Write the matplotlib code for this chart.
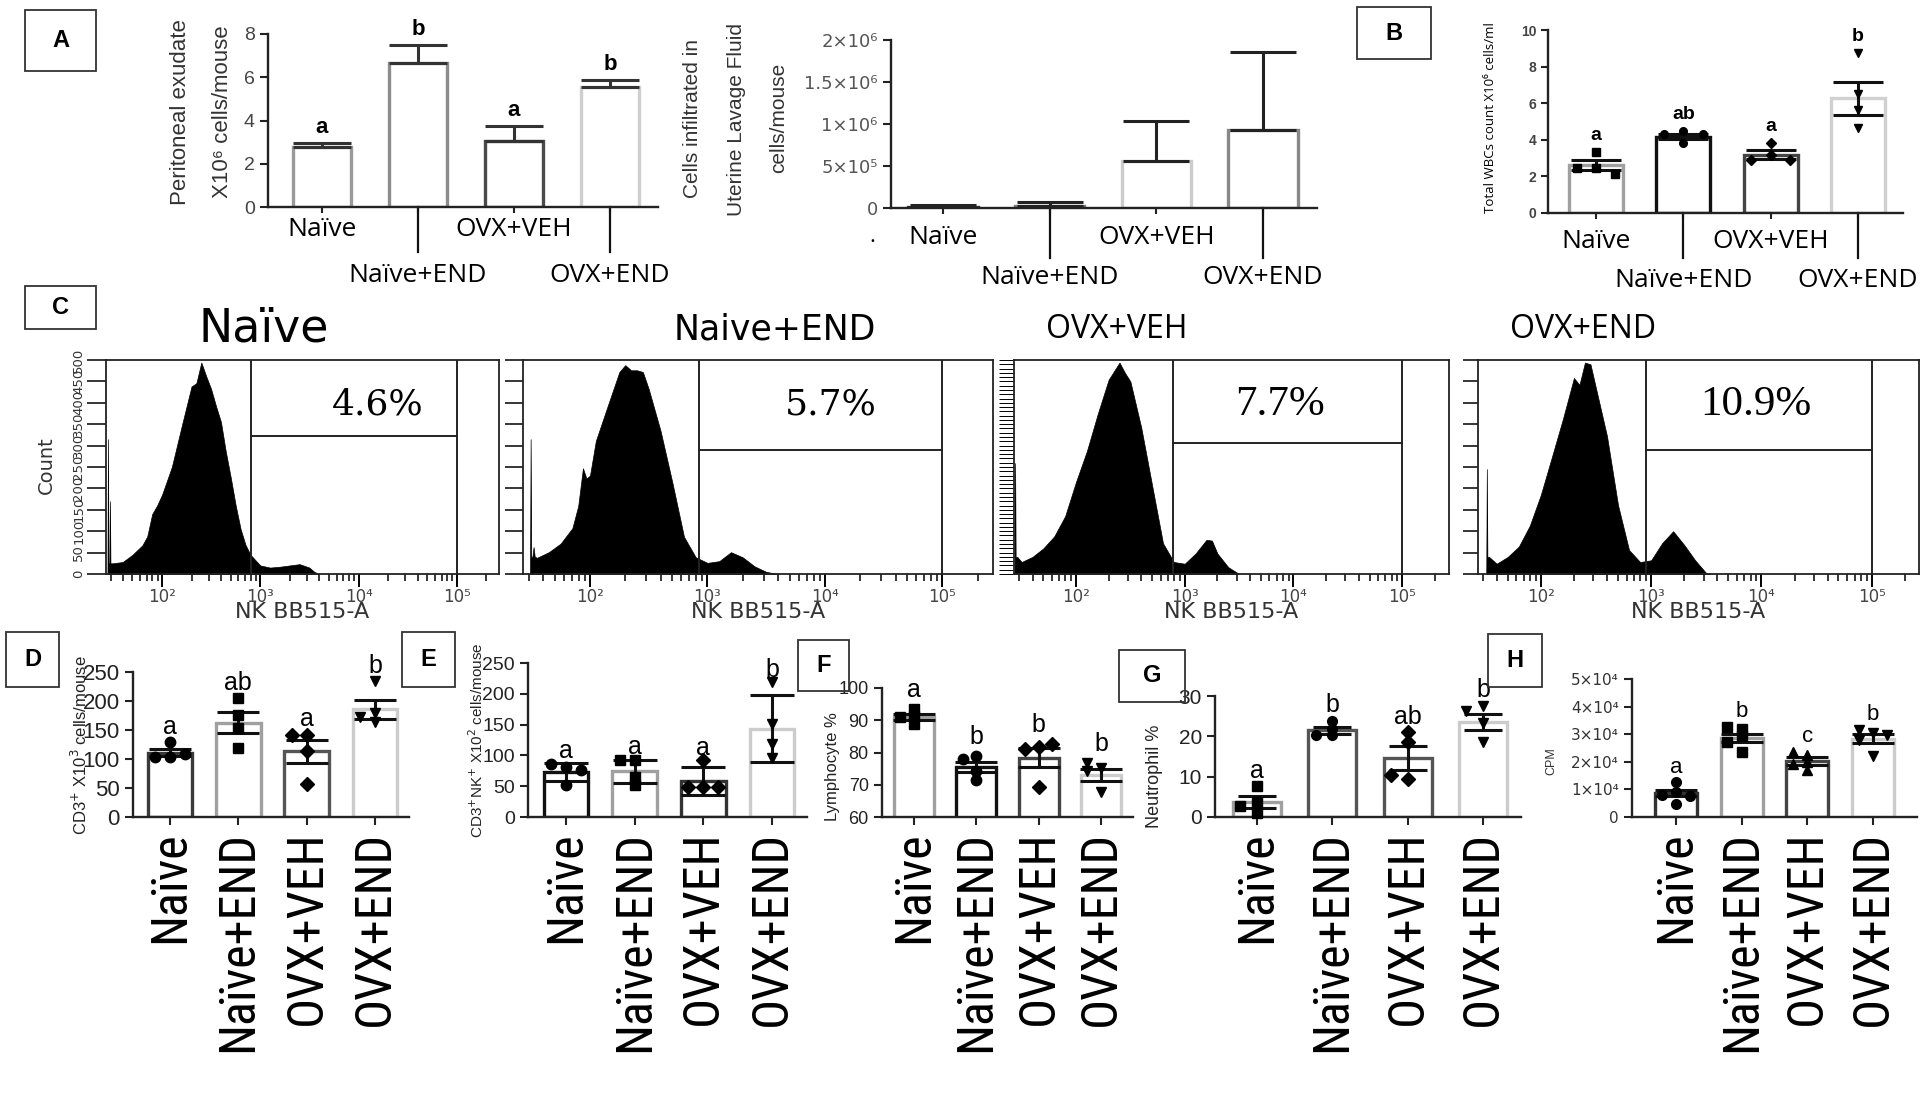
import numpy as np
import matplotlib
matplotlib.use("Agg")
import matplotlib.pyplot as plt
import matplotlib.transforms as mtransforms
from matplotlib.lines import Line2D
from matplotlib.patches import Rectangle

# --------------------------------------------------
# values
# --------------------------------------------------
groups = ["Naïve", "Naïve+END", "OVX+VEH", "OVX+END"]

# A left: peritoneal exudate X10^6 cells/mouse (mean + upper SEM only)
perit_mean = [2.78, 6.65, 3.03, 5.55]
perit_err = [0.16, 0.85, 0.70, 0.30]
perit_letters = ["a", "b", "a", "b"]

# A right: cells infiltrated in uterine lavage fluid, cells/mouse
uter_mean = [12000, 25000, 555000, 930000]
uter_err = [28000, 42000, 475000, 930000]
uter_ticks = [0, 5e5, 1e6, 1.5e6, 2e6]
uter_ticklabels = ["0", "5×10⁵", "1×10⁶", "1.5×10⁶", "2×10⁶"]

# B: total WBCs count X10^6 cells/ml
wbc_mean = [2.61, 4.16, 3.19, 6.26]
wbc_sem = [0.27, 0.13, 0.24, 0.90]
wbc_pts = [[3.34, 2.46, 2.46, 2.15],
           [3.85, 4.29, 4.29, 4.47],
           [3.80, 3.19, 2.92, 2.92],
           [8.76, 6.53, 5.62, 4.62]]
wbc_letters = ["a", "ab", "a", "b"]

# C: NK BB515-A histograms (x = log10 intensity, y = count)
hist_titles = ["Naïve", "Naive+END", "OVX+VEH", "OVX+END"]
hist_pct = ["4.6%", "5.7%", "7.7%", "10.9%"]
gate_lo = [2.91, 2.93, 2.89, 2.95]
gate_hi = 5.0
gate_y = [323, 290, 306, 290]

naive_x = [1.445, 1.45, 1.455, 1.465, 1.47, 1.475, 1.5, 1.6, 1.7, 1.8, 1.85, 1.9, 1.95, 2.0,
           2.1, 2.2, 2.3, 2.35, 2.4, 2.45, 2.5, 2.55, 2.6, 2.65, 2.7, 2.75, 2.8, 2.85,
           2.9, 3.0, 3.1, 3.2, 3.3, 3.4, 3.5, 3.55, 3.6]
naive_y = [0, 315, 25, 25, 170, 25, 25, 28, 45, 67, 88, 140, 160, 185,
           250, 345, 438, 446, 494, 462, 432, 392, 355, 285, 225, 160, 105, 68,
           45, 20, 15, 17, 20, 23, 15, 5, 0]
nend_x = [1.49, 1.495, 1.50, 1.51, 1.52, 1.53, 1.55, 1.65, 1.75, 1.85, 1.9, 1.94, 1.97, 2.0,
          2.05, 2.15, 2.25, 2.3, 2.35, 2.4, 2.45, 2.5, 2.6, 2.7, 2.8, 2.9, 3.0, 3.1,
          3.2, 3.3, 3.4, 3.5, 3.6]
nend_y = [0, 315, 40, 40, 63, 40, 38, 51, 71, 107, 159, 247, 223, 230,
          311, 392, 472, 488, 476, 476, 472, 432, 335, 215, 87, 39, 26, 30,
          51, 39, 18, 5, 0]
oveh_x = [1.435, 1.44, 1.445, 1.455, 1.46, 1.5, 1.6, 1.7, 1.8, 1.9, 2.0, 2.1, 2.2, 2.3, 2.4,
          2.45, 2.5, 2.6, 2.7, 2.8, 2.9, 3.0, 3.1, 3.2, 3.25, 3.3, 3.4, 3.5]
oveh_y = [0, 259, 40, 40, 40, 28, 40, 60, 88, 135, 215, 287, 374, 454, 494,
          470, 450, 342, 207, 72, 28, 24, 48, 80, 78, 48, 16, 0]
oend_x = [1.505, 1.51, 1.515, 1.52, 1.53, 1.6, 1.7, 1.8, 1.9, 2.0, 2.1, 2.2, 2.3,
          2.35, 2.4, 2.45, 2.5, 2.6, 2.7, 2.8, 2.9, 3.0, 3.1, 3.2, 3.3, 3.4, 3.5, 3.55]
oend_y = [0, 245, 40, 40, 40, 24, 40, 64, 113, 185, 273, 362, 458,
          442, 494, 490, 434, 322, 161, 56, 28, 32, 72, 100, 68, 32, 2, 0]

# D: CD3+ X10^3 cells/mouse
cd3_mean = [111, 162.5, 113, 185.5]
cd3_sem = [6.5, 18, 20, 16]
cd3_pts = [[129.7, 103.4, 103.4, 108.1],
           [205.5, 175.2, 152.6, 118.9],
           [142.2, 142.2, 114.6, 56.3],
           [234.2, 178.6, 171.9, 164.1]]
cd3_letters = ["a", "ab", "a", "b"]

# E: CD3+NK+ X10^2 cells/mouse
nk_mean = [73, 74, 59, 143.5]
nk_sem = [14.5, 19, 22.5, 54]
nk_pts = [[80.7, 85.4, 76.6, 51.6],
          [91.8, 91.8, 64.9, 52.2],
          [92.4, 48.1, 48.1, 48.1],
          [218.4, 150.3, 118.7, 95.0]]
nk_letters = ["a", "a", "a", "b"]

# F: lymphocyte %
lym_mean = [91.1, 75.6, 78.4, 73.0]
lym_sem = [0.9, 1.5, 3.0, 1.9]
lym_pts = [[93.5, 91.2, 91.0, 88.8],
           [78.9, 78.1, 74.3, 71.6],
           [81.7, 81.2, 82.6, 69.2],
           [75.1, 76.7, 74.3, 67.6]]
lym_letters = ["a", "b", "b", "b"]

# G: neutrophil %
neu_mean = [3.7, 21.5, 14.7, 23.6]
neu_sem = [1.5, 0.9, 3.0, 2.05]
neu_pts = [[7.6, 3.8, 2.8, 0.9],
           [23.75, 21.8, 20.3, 20.3],
           [21.0, 18.6, 9.4, 10.3],
           [27.6, 26.3, 23.3, 18.6]]
neu_letters = ["a", "b", "ab", "b"]

# H: CPM
cpm_mean = [8660, 28600, 20300, 28400]
cpm_sem = [1100, 1400, 1300, 1650]
cpm_pts = [[12600, 9000, 8100, 7700, 4600],
           [31900, 32600, 29200, 27100, 23700],
           [22500, 23700, 19900, 19200, 16900],
           [30300, 31500, 29800, 28000, 22000]]
cpm_letters = ["a", "b", "c", "b"]
cpm_ticks = [0, 1e4, 2e4, 3e4, 4e4, 5e4]
cpm_ticklabels = ["0", "1×10⁴", "2×10⁴", "3×10⁴", "4×10⁴", "5×10⁴"]

# --------------------------------------------------
# figure helpers (pixel layout of the 1924x1106 canvas)
# --------------------------------------------------
W, H = 1924, 1106
plt.rcParams["font.family"] = ["Liberation Sans", "DejaVu Sans"]
COND = ["Open Sans", "DejaVu Sans"]
TALL = ["Roboto Condensed", "Liberation Sans", "DejaVu Sans"]
WIDE = ["DejaVu Sans"]

fig = plt.figure(figsize=(W / 100, H / 100), dpi=100)


def frac(l, t, r, b):
    return [l / W, 1 - b / H, (r - l) / W, (b - t) / H]


def fy(y):
    return 1 - y / H


def panel_tag(l, t, r, b, s):
    fig.add_artist(Rectangle((l / W, fy(b)), (r - l) / W, (b - t) / H,
                             transform=fig.transFigure, fill=False, lw=1.3, ec="#333"))
    fig.text((l + r) / 2 / W, fy((t + b) / 2), s, ha="center", va="center",
             fontsize=17, fontweight="bold")


def bar_axes(spine, end, c0, c3, top, zero, ylim):
    step = (c3 - c0) / 3
    ax = fig.add_axes(frac(spine, top, end, zero))
    ax.set_xlim(-(c0 - spine) / step, 3 + (end - c3) / step)
    ax.set_ylim(*ylim)
    ax.patch.set_alpha(0)
    for s in ("top", "right"):
        ax.spines[s].set_visible(False)
    for s in ("left", "bottom"):
        ax.spines[s].set_linewidth(1.7)
        ax.spines[s].set_color("#222")
    ax.tick_params(direction="out", width=1.5, length=6, color="#222")
    ax.set_xticks(range(4))
    return ax


def swarm(vals, span, step=0.22):
    offs = []
    for i, v in enumerate(vals):
        used = [offs[j] for j in range(i) if abs(vals[j] - v) < 0.05 * span]
        for c in (0, -step, step, -2 * step, 2 * step):
            if all(abs(c - u) > 1e-9 for u in used):
                offs.append(c)
                break
    return offs


def draw_bars(ax, means, errs, colors, width, cap, pts=None, markers=None, ms=8,
              one_sided=False, letters=None, pad=0.1, lfs=18, lweight="normal", ecolor="#111"):
    x = np.arange(len(means))
    ax.bar(x, means, width, color="white", edgecolor=colors, linewidth=2.4, zorder=2)
    yerr = [np.zeros(len(errs)), errs] if one_sided else errs
    ax.errorbar(x, means, yerr=yerr, fmt="none", ecolor=ecolor, elinewidth=2.2,
                capsize=cap, capthick=2.2, zorder=4)
    lo, hi = ax.get_ylim()
    span = hi - lo
    for i in x:
        top = means[i] + errs[i]
        if pts is not None:
            offs = swarm(pts[i], span)
            ax.plot(i + np.array(offs), pts[i], ls="none", marker=markers[i], ms=ms,
                    color="black", zorder=5, clip_on=False)
            top = max(top, max(pts[i]))
        if letters is not None:
            ax.text(i, top + pad * span, letters[i], ha="center", va="center",
                    fontsize=lfs, fontweight=lweight, clip_on=False)


def stagger_labels(ax, y1, y2, ydiv, fs=19):
    tr = mtransforms.blended_transform_factory(ax.transData, fig.transFigure)
    y0 = ax.get_position().y0
    ax.set_xticklabels([])
    ax.tick_params(axis="x", length=4)
    for i, g in enumerate(groups):
        if i % 2 == 0:
            ax.text(i, fy(y1), g, transform=tr, ha="center", va="center", fontsize=fs, family=COND)
        else:
            ax.add_line(Line2D([i, i], [y0, fy(ydiv)], transform=tr, color="#111", lw=1.6,
                               clip_on=False))
            ax.text(i, fy(y2), g, transform=tr, ha="center", va="center", fontsize=fs, family=COND)


def rotated_labels(ax, fs=36):
    ax.set_xticklabels(groups, rotation=90, fontsize=fs, family=TALL)
    ax.tick_params(axis="x", pad=4)


def hist_panel(box, xs, ys, k, title_x, title_font, title_size, pct_x, pct_font, pct_size,
               tick_step, tick_len, tick_w=1.1, show_labels=False):
    l, r, t, b = box
    ax = fig.add_axes(frac(l, t, r, b))
    ax.fill_between(xs, ys, 0, color="black", lw=0.5, ec="black")
    ax.set_xlim(1.43, 5.43)
    ax.set_ylim(0, 500)
    for s in ax.spines.values():
        s.set_linewidth(1.3)
        s.set_color("#222")
    lo = gate_lo[k]
    ax.plot([lo, lo], [0, 500], color="#222", lw=1.4)
    ax.plot([gate_hi, gate_hi], [0, 500], color="#222", lw=1.4)
    ax.plot([lo, gate_hi], [gate_y[k], gate_y[k]], color="#222", lw=1.4)
    ax.text(pct_x, 395, hist_pct[k], ha="center", va="center",
            fontsize=pct_size, family=pct_font)
    ax.set_xticks([2, 3, 4, 5])
    ax.set_xticklabels(["10²", "10³", "10⁴", "10⁵"], fontsize=12, color="#444",
                       family=["DejaVu Sans"])
    minor = [np.log10(m * 10 ** n) for n in range(1, 6) for m in range(2, 10)]
    ax.set_xticks([v for v in minor if 1.43 < v < 5.43], minor=True)
    ax.tick_params(axis="x", which="major", direction="out", length=9, width=1.4, pad=1)
    ax.tick_params(axis="x", which="minor", direction="out", length=5, width=1.1)
    ax.set_xlabel("NK BB515-A", fontsize=16, color="#333", family=["DejaVu Sans"], labelpad=-3)
    ax.set_yticks(np.arange(0, 501, tick_step))
    ax.tick_params(axis="y", direction="out", length=tick_len, width=tick_w, pad=1)
    if show_labels:
        ax.set_yticklabels([str(v) for v in range(0, 501, tick_step)], rotation=90,
                           fontsize=9.5, color="#333", va="center", family=["DejaVu Sans"])
    else:
        ax.set_yticklabels([])
    fig.text(title_x / W, fy(329), hist_titles[k], ha="center", va="center",
             fontsize=title_size, family=title_font)
    return ax


# --------------------------------------------------
# A: peritoneal exudate and uterine lavage
# --------------------------------------------------
panel_tag(25, 10, 96, 71, "A")
ax = bar_axes(268, 658, 322, 610, 34, 207, (0, 8))
draw_bars(ax, perit_mean, perit_err, ["#9a9a9a", "#8c8c8c", "#4a4a4a", "#cfcfcf"], 0.6, 21,
          one_sided=True, letters=perit_letters, pad=0.09, lfs=16, lweight="bold", ecolor="#333")
ax.set_yticks([0, 2, 4, 6, 8])
ax.tick_params(axis="y", labelsize=14, labelcolor="#444")
stagger_labels(ax, 229, 276, 252)
fig.text(181 / W, fy(112), "Peritoneal exudate", rotation=90, ha="center", va="center",
         fontsize=16, color="#333")
fig.text(223 / W, fy(112), "X10⁶ cells/mouse", rotation=90, ha="center", va="center",
         fontsize=16, color="#333")

ax = bar_axes(891, 1317, 943, 1263, 40, 208, (0, 2e6))
draw_bars(ax, uter_mean, uter_err, ["#333333", "#7a7a7a", "#cccccc", "#888888"], 0.65, 24,
          one_sided=True, ecolor="#222")
ax.set_yticks(uter_ticks)
ax.set_yticklabels(uter_ticklabels, fontsize=13, color="#555", family=["DejaVu Sans"])
stagger_labels(ax, 238, 278, 258)
fig.text(872 / W, fy(236), ".", ha="center", va="center", fontsize=16, family=COND)
fig.text(693 / W, fy(118), "Cells infiltrated in", rotation=90, ha="center", va="center",
         fontsize=15, color="#333")
fig.text(737 / W, fy(119), "Uterine Lavage Fluid", rotation=90, ha="center", va="center",
         fontsize=15, color="#333")
fig.text(779 / W, fy(118), "cells/mouse", rotation=90, ha="center", va="center",
         fontsize=15, color="#333")

# --------------------------------------------------
# B: total WBCs
# --------------------------------------------------
panel_tag(1357, 7, 1431, 59, "B")
ax = bar_axes(1548, 1903, 1596, 1858, 30, 213, (0, 10))
draw_bars(ax, wbc_mean, wbc_sem, ["#a0a0a0", "#111111", "#444444", "#d0d0d0"], 0.62, 18,
          pts=wbc_pts, markers=["s", "o", "D", "v"], ms=5.5, letters=wbc_letters, pad=0.09,
          lfs=14, lweight="bold")
ax.set_yticks(range(0, 11, 2))
ax.tick_params(axis="y", labelsize=10, labelcolor="#444", length=5)
for t in ax.get_yticklabels():
    t.set_fontweight("bold")
stagger_labels(ax, 242, 281, 258)
fig.text(1491 / W, fy(118), "Total WBCs count X10⁶ cells/ml", rotation=90, ha="center",
         va="center", fontsize=9.5, family=COND)

# --------------------------------------------------
# C: flow cytometry histograms
# --------------------------------------------------
panel_tag(25, 286, 96, 329, "C")
SERIF_WIDE = ["DejaVu Serif"]
SERIF = ["Liberation Serif", "DejaVu Serif"]
hist_panel((106, 499, 360, 574), naive_x, naive_y, 0, 264, WIDE, 33, 4.2, SERIF_WIDE, 26,
           50, 14, show_labels=True)
hist_panel((523, 993, 360, 574), nend_x, nend_y, 1, 775, WIDE, 25, 4.05, SERIF_WIDE, 26, 50, 13)
hist_panel((1014, 1449, 360, 574), oveh_x, oveh_y, 2, 1117, COND, 23, 3.88, SERIF, 31,
           10, 11, tick_w=0.7)
hist_panel((1478, 1919, 360, 574), oend_x, oend_y, 3, 1583, COND, 23, 3.95, SERIF, 31, 50, 11)
fig.text(46 / W, fy(465), "Count", rotation=90, ha="center", va="center", fontsize=14,
         color="#333", family=["DejaVu Sans"])

# --------------------------------------------------
# D - H: bottom row
# --------------------------------------------------
panel_tag(6, 632, 59, 687, "D")
ax = bar_axes(133, 409, 170, 375, 672, 817, (0, 250))
draw_bars(ax, cd3_mean, cd3_sem, ["#3a3a3a", "#a0a0a0", "#555555", "#cccccc"], 0.65, 15,
          pts=cd3_pts, markers=["o", "s", "D", "v"], ms=7.5, letters=cd3_letters, pad=0.105)
ax.set_yticks(range(0, 251, 50))
ax.tick_params(axis="y", labelsize=16, labelcolor="#222")
rotated_labels(ax)
fig.text(80 / W, fy(745), "CD3$^{+}$ X10$^{3}$ cells/mouse", rotation=90, ha="center",
         va="center", fontsize=12, color="#222")

panel_tag(402, 632, 455, 687, "E")
ax = bar_axes(528, 807, 566, 772, 663, 817, (0, 250))
draw_bars(ax, nk_mean, nk_sem, ["#111111", "#a0a0a0", "#333333", "#cccccc"], 0.65, 16,
          pts=nk_pts, markers=["o", "s", "D", "v"], ms=7.5, letters=nk_letters, pad=0.08)
ax.set_yticks(range(0, 251, 50))
ax.tick_params(axis="y", labelsize=14, labelcolor="#222")
rotated_labels(ax)
fig.text(477 / W, fy(740), "CD3$^{+}$NK$^{+}$ X10$^{2}$ cells/mouse", rotation=90, ha="center",
         va="center", fontsize=11, color="#222")

panel_tag(798, 640, 849, 691, "F")
ax = bar_axes(882, 1133, 914, 1101, 688, 817, (60, 100))
draw_bars(ax, lym_mean, lym_sem, ["#a0a0a0", "#111111", "#444444", "#cccccc"], 0.64, 15,
          pts=lym_pts, markers=["s", "o", "D", "v"], ms=7.5, letters=lym_letters, pad=0.145)
ax.set_yticks(range(60, 101, 10))
ax.tick_params(axis="y", labelsize=13, labelcolor="#222")
rotated_labels(ax)
fig.text(832 / W, fy(767), "Lymphocyte %", rotation=90, ha="center", va="center",
         fontsize=12, color="#222")

panel_tag(1119, 650, 1185, 702, "G")
ax = bar_axes(1215, 1521, 1257, 1483, 696, 817, (0, 30))
draw_bars(ax, neu_mean, neu_sem, ["#a0a0a0", "#555555", "#555555", "#cccccc"], 0.64, 14,
          pts=neu_pts, markers=["s", "o", "D", "v"], ms=7, letters=neu_letters, pad=0.13)
ax.set_yticks(range(0, 31, 10))
ax.tick_params(axis="y", labelsize=15, labelcolor="#222")
rotated_labels(ax)
fig.text(1155 / W, fy(776), "Neutrophil %", rotation=90, ha="center", va="center",
         fontsize=13, color="#222")

panel_tag(1488, 634, 1542, 687, "H")
ax = bar_axes(1632, 1917, 1676, 1873, 679, 817, (0, 5e4))
draw_bars(ax, cpm_mean, cpm_sem, ["#333333", "#a0a0a0", "#444444", "#cccccc"], 0.64, 15,
          pts=cpm_pts, markers=["o", "s", "^", "v"], ms=7, letters=cpm_letters, pad=0.11,
          lfs=16)
ax.set_yticks(cpm_ticks)
ax.set_yticklabels(cpm_ticklabels, fontsize=11, color="#333", family=["DejaVu Sans"])
rotated_labels(ax)
fig.text(1551 / W, fy(761), "CPM", rotation=90, ha="center", va="center", fontsize=9,
         color="#333")

fig.savefig("out.png", dpi=100)
